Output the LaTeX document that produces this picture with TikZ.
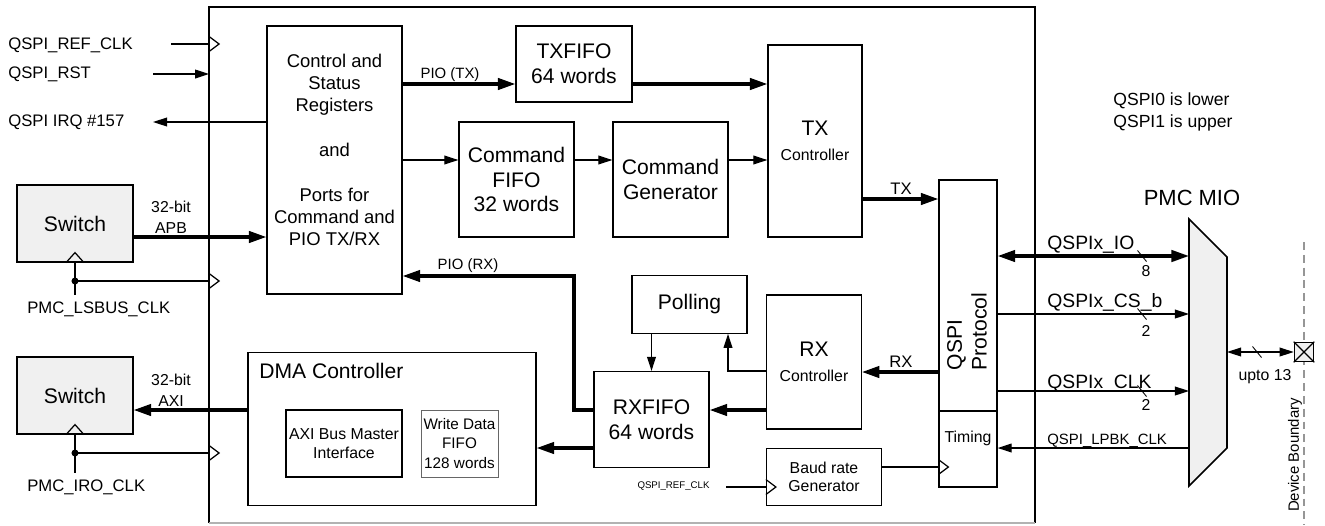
\documentclass[tikz,border=0pt]{standalone}
\usepackage{fontspec}
\setmainfont{Liberation Sans}
\usepackage{tikz}
\usetikzlibrary{arrows.meta,positioning}
\definecolor{swfill}{RGB}{240,240,240}
\definecolor{bndgray}{RGB}{150,150,150}
\newcommand{\fbig}{\fontsize{12}{14.2}\selectfont}
\newcommand{\fmid}{\fontsize{10.5}{12.7}\selectfont}
\newcommand{\flbl}{\fontsize{9.5}{11.5}\selectfont}
\newcommand{\fnote}{\fontsize{10}{12.5}\selectfont}
\newcommand{\fsml}{\fontsize{9}{10.5}\selectfont}
\newcommand{\fwire}{\fontsize{8.5}{10}\selectfont}
\newcommand{\ftiny}{\fontsize{5.5}{6.5}\selectfont}
\newcommand{\fmio}{\fontsize{12.5}{15}\selectfont}

\begin{document}
\begin{tikzpicture}[
  x=0.02cm, y=-0.02cm,
  blk/.style={draw, line width=0.7pt, inner sep=0pt, align=center, font=\fbig},
  swbox/.style={blk, fill=swfill, minimum width=2.32cm, minimum height=1.54cm},
  txt/.style={inner sep=0pt, align=center},
  wire/.style={line width=0.7pt},
  sig/.style={wire, -{Triangle[length=8pt,width=5pt]}},
  bisig/.style={wire, {Triangle[length=8pt,width=5pt]}-{Triangle[length=8pt,width=5pt]}},
  bus/.style={line width=1.8pt, -{Triangle[length=10pt,width=6.5pt]}},
  bibus/.style={line width=1.8pt, {Triangle[length=10pt,width=6.5pt]}-{Triangle[length=10pt,width=6.5pt]}},
  clk/.pic={\draw[line width=0.7pt] (0,-7.5) -- (10,0) -- (0,7.5);},
  clkup/.pic={\draw[line width=0.7pt] (-9,0) -- (0,-10) -- (9,0);},
  slash/.pic={\draw[line width=0.5pt] (-4.5,-5.5) -- (4.5,5.5);}
]
\useasboundingbox (0,0) rectangle (1325,525);

% outer block
\node[minimum width=16.52cm, minimum height=10.32cm, inner sep=0pt, outer sep=0pt] (main) at (622,265) {};
\draw[wire] (main.south west) -- (main.north west) -- (main.north east) -- (main.south east);
\draw[wire, black!30] (main.south west) -- (main.south east);

% signal levels
\coordinate (lvapb) at (0,237);
\coordinate (lvaxi) at (0,410);
\coordinate (lvpiotx) at (0,84);
\coordinate (lvcmd) at (0,160);
\coordinate (lvtx) at (0,199);
\coordinate (lvrx) at (0,372);
\coordinate (lvrxf) at (0,410);
\coordinate (lvdma) at (0,448);
\coordinate (lvpollup) at (0,371);
\coordinate (lvbaudout) at (0,467);
\coordinate (lvio) at (0,256);
\coordinate (lvcs) at (0,314);
\coordinate (lvclk) at (0,391);
\coordinate (lvlpbk) at (0,448);
\coordinate (lvpad) at (0,352);
\coordinate (rxbend) at (574,276);
\coordinate (pollx) at (728,0);

% blocks
\node[blk, minimum width=2.7cm, minimum height=5.36cm] (csr) at (334.5,160) {};
\node[txt, font=\fmid] (csrlbl) at (334.5,150) {Control and\\Status\\Registers\\[12.7pt]and\\[12.7pt]Ports for\\Command and\\PIO TX/RX};
\node[blk, minimum width=2.32cm, minimum height=1.52cm] (txfifo) at (574,64) {TXFIFO\\64 words};
\node[blk, minimum width=2.3cm, minimum height=2.3cm] (cmdfifo) at (516.5,179.5) {Command\\FIFO\\32 words};
\node[blk, minimum width=2.3cm, minimum height=2.3cm] (cmdgen) at (670.5,179.5) {Command\\Generator};
\node[blk, minimum width=1.88cm, minimum height=3.84cm] (txctrl) at (815,141) {TX\\{\fsml Controller}};
\node[blk, minimum width=1.16cm, minimum height=4.62cm] (proto) at (968,295.5) {};
\node[txt, font=\fbig, rotate=90, align=left] (protolbl) at (967,331.5) {QSPI\\Protocol};
\node[blk, minimum width=1.16cm, minimum height=1.52cm] (timing) at (968,449) {};
\node[txt, font=\fsml] (timinglbl) at (968,438) {Timing};
\node[blk, minimum width=1.89cm, minimum height=2.68cm] (rxctrl) at (814,362) {RX\\{\fsml Controller}};
\node[blk, minimum width=2.3cm, minimum height=1.15cm] (polling) at (689.5,304.5) {Polling};
\node[blk, minimum width=2.3cm, minimum height=1.92cm] (rxfifo) at (651.5,419.5) {RXFIFO\\64 words};
\node[blk, minimum width=2.3cm, minimum height=1.15cm, font=\fsml] (baud) at (824,477) {Baud rate\\Generator};
\node[blk, minimum width=5.76cm, minimum height=3.05cm] (dma) at (392,429) {};
\node[txt, font=\fbig, anchor=west] (dmalbl) at (259,371) {DMA Controller};
\node[blk, minimum width=2.32cm, minimum height=1.34cm, font=\fsml] (axibm) at (344,443.5) {AXI Bus Master\\Interface};
\node[blk, draw=black!60, line width=0.5pt, minimum width=1.54cm, minimum height=1.34cm, font=\fontsize{8.7}{11}\selectfont] (wdfifo) at (459.5,443.5) {Write Data\\FIFO\\128 words};
\node[swbox] (sw1) at (75,223.5) {Switch};
\node[swbox] (sw2) at (75,395.5) {Switch};

% left side inputs
\node[txt, font=\flbl, anchor=west] (refclklbl) at (8,45) {QSPI\_REF\_CLK};
\node[txt, font=\flbl, anchor=west] (rstlbl) at (8,74) {QSPI\_RST};
\node[txt, font=\flbl, anchor=west] (irqlbl) at (8,122) {QSPI IRQ \#157};
\node[txt, font=\flbl, anchor=west] (lsbuslbl) at (27,309) {PMC\_LSBUS\_CLK};
\node[txt, font=\flbl, anchor=west] (irolbl) at (27,487) {PMC\_IRO\_CLK};
\coordinate (refclkin) at (171,44);
\coordinate (rstin) at (153,74);
\coordinate (irqout) at (153,122);
\coordinate (lsbusdot) at (75,281);
\coordinate (lsbusend) at (75,295);
\coordinate (irodot) at (75,453);
\coordinate (iroend) at (75,473);

\draw[wire] (refclkin) -- (main.west |- refclkin);
\pic at (main.west |- refclkin) {clk};
\draw[sig] (rstin) -- (main.west |- rstin);
\draw[sig] (csr.west |- irqout) -- (irqout);

\draw[wire] (sw1.south) -- (lsbusend);
\pic at (sw1.south) {clkup};
\fill (lsbusdot) circle (2pt);
\draw[wire] (lsbusdot) -- (main.west |- lsbusdot);
\pic at (main.west |- lsbusdot) {clk};
\draw[wire] (sw2.south) -- (iroend);
\pic at (sw2.south) {clkup};
\fill (irodot) circle (2pt);
\draw[wire] (irodot) -- (main.west |- irodot);
\pic at (main.west |- irodot) {clk};

\draw[bus] (sw1.east |- lvapb) -- (csr.west |- lvapb);
\node[txt, font=\fontsize{9}{11.9}\selectfont] (apblbl) at (171,217) {32-bit\\APB};
\draw[bus] (dma.west |- lvaxi) -- (sw2.east |- lvaxi);
\node[txt, font=\fontsize{9}{11.9}\selectfont] (axilbl) at (171,390) {32-bit\\AXI};

% transmit path
\draw[bus] (csr.east |- lvpiotx) -- (txfifo.west |- lvpiotx);
\node[txt, font=\fwire] (piotxlbl) at (450,75) {PIO (TX)};
\draw[bus] (txfifo.east |- lvpiotx) -- (txctrl.west |- lvpiotx);
\draw[sig] (csr.east |- lvcmd) -- (cmdfifo.west |- lvcmd);
\draw[sig] (cmdfifo.east |- lvcmd) -- (cmdgen.west |- lvcmd);
\draw[sig] (cmdgen.east |- lvcmd) -- (txctrl.west |- lvcmd);
\draw[bus] (txctrl.east |- lvtx) -- (proto.west |- lvtx);
\node[txt, font=\flbl] (txlbl) at (901,189) {TX};

% receive path
\draw[bus] (proto.west |- lvrx) -- (rxctrl.east |- lvrx);
\node[txt, font=\flbl] (rxlbl) at (901,361.5) {RX};
\draw[bus] (rxctrl.west |- lvrxf) -- (rxfifo.east |- lvrxf);
\draw[bus] (rxfifo.west |- lvdma) -- (dma.east |- lvdma);
\draw[bus] (rxfifo.west |- lvrxf) -| (rxbend) -- (csr.east |- rxbend);
\node[txt, font=\fwire] (piorxlbl) at (468,266) {PIO (RX)};
\draw[sig] (polling.south -| rxfifo.north) -- (rxfifo.north);
\draw[sig] (rxctrl.west |- lvpollup) -| (polling.south -| pollx);

% baud rate clock
\coordinate (baudin) at (726,487);
\node[txt, font=\ftiny] (baudinlbl) at (673.5,486) {QSPI\_REF\_CLK};
\draw[wire] (baudin) -- (baud.west |- baudin);
\pic at (baud.west |- baudin) {clk};
\draw[wire] (baud.east |- lvbaudout) -- (timing.west |- lvbaudout);
\pic at (timing.west |- lvbaudout) {clk};

% PMC MIO
\coordinate (muxtl) at (1189,219);
\coordinate (muxtr) at (1227,257);
\coordinate (muxbr) at (1227,448);
\coordinate (muxbl) at (1189,486);
\draw[line width=0.9pt, fill=swfill] (muxtl) -- (muxtr) -- (muxbr) -- (muxbl) -- cycle;
\node[txt, font=\fmio] (miolbl) at (1192,198) {PMC MIO};
\node[txt, font=\fnote, align=left, anchor=west] (note) at (1113,112) {QSPI0 is lower\\QSPI1 is upper};

\draw[bibus] (proto.east |- lvio) -- (muxtl |- lvio);
\node[txt, font=\fontsize{11}{13}\selectfont, anchor=base west] (iolbl) at (1047,249) {QSPIx\_IO};
\pic at (1142,256) {slash};
\node[txt, font=\fsml] (iowidth) at (1146,271) {8};
\draw[sig] (proto.east |- lvcs) -- (muxtl |- lvcs);
\node[txt, font=\fontsize{11}{13}\selectfont, anchor=base west] (cslbl) at (1047,307) {QSPIx\_CS\_b};
\pic at (1142,314) {slash};
\node[txt, font=\fsml] (cswidth) at (1146,331) {2};
\draw[sig] (proto.east |- lvclk) -- (muxtl |- lvclk);
\node[txt, font=\fontsize{11}{13}\selectfont, anchor=base west] (clklbl) at (1047,388) {QSPIx\_CLK};
\pic at (1142,391) {slash};
\node[txt, font=\fsml] (clkwidth) at (1146,405) {2};
\draw[sig] (muxtl |- lvlpbk) -- (timing.east |- lvlpbk);
\node[txt, font=\fwire, anchor=base west] (lpbklbl) at (1047,444) {QSPI\_LPBK\_CLK};

% device boundary and pad
\coordinate (bndtop) at (1304,242);
\coordinate (bndbot) at (1304,525);
\draw[bndgray, line width=0.9pt, dash pattern=on 4.5pt off 2.8pt] (bndtop) -- (bndbot);
\node[txt, font=\fwire, rotate=90] (bndlbl) at (1295,455) {Device Boundary};
\node[draw, line width=0.9pt, fill=swfill, minimum size=0.38cm, inner sep=0pt] (pad) at (1304,352) {};
\draw[wire] (pad.north west) -- (pad.south east);
\draw[wire] (pad.south west) -- (pad.north east);
\draw[bisig] (muxtr |- lvpad) -- (pad.west);
\pic at (1257,352) {slash};
\node[txt, font=\fsml] (padlbl) at (1265,377) {upto 13};
\end{tikzpicture}
\end{document}
